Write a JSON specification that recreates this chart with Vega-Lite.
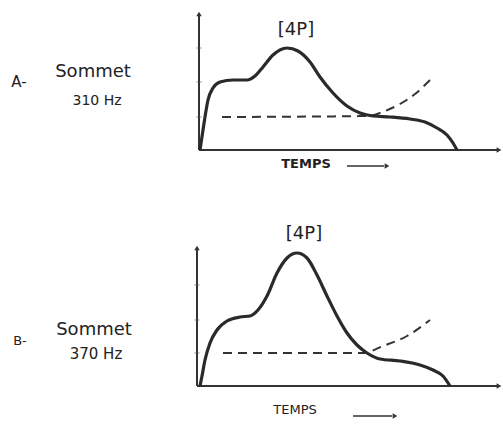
{
 "$schema": "https://vega.github.io/schema/vega-lite/v6.json",
 "padding": 0,
 "spacing": 0,
 "background": "white",
 "config": {"view": {"stroke": null}},
 "datasets": {
  "curves": [
   {"p":"A","s":"main","t":1,"a":0},{"p":"A","s":"main","t":4,"a":20},{"p":"A","s":"main","t":6,"a":33},{"p":"A","s":"main","t":9,"a":50},{"p":"A","s":"main","t":14,"a":62},{"p":"A","s":"main","t":21,"a":68},{"p":"A","s":"main","t":34,"a":70},{"p":"A","s":"main","t":48,"a":70},{"p":"A","s":"main","t":56,"a":74},{"p":"A","s":"main","t":64,"a":83},{"p":"A","s":"main","t":74,"a":95},{"p":"A","s":"main","t":88,"a":102},{"p":"A","s":"main","t":99,"a":99},{"p":"A","s":"main","t":111,"a":88},{"p":"A","s":"main","t":121,"a":73},{"p":"A","s":"main","t":134,"a":57},{"p":"A","s":"main","t":148,"a":44},{"p":"A","s":"main","t":161,"a":37},{"p":"A","s":"main","t":174,"a":34},{"p":"A","s":"main","t":191,"a":33},{"p":"A","s":"main","t":211,"a":31},{"p":"A","s":"main","t":226,"a":28},{"p":"A","s":"main","t":238,"a":22},{"p":"A","s":"main","t":248,"a":15},{"p":"A","s":"main","t":254,"a":7},{"p":"A","s":"main","t":258,"a":0},
   {"p":"A","s":"dash","t":23,"a":33},{"p":"A","s":"dash","t":168,"a":34},{"p":"A","s":"dash","t":186,"a":39},{"p":"A","s":"dash","t":201,"a":46},{"p":"A","s":"dash","t":216,"a":56},{"p":"A","s":"dash","t":231,"a":70},
   {"p":"B","s":"main","t":3,"a":0},{"p":"B","s":"main","t":5,"a":10},{"p":"B","s":"main","t":8,"a":26},{"p":"B","s":"main","t":13,"a":43},{"p":"B","s":"main","t":20,"a":56},{"p":"B","s":"main","t":30,"a":65},{"p":"B","s":"main","t":43,"a":69},{"p":"B","s":"main","t":53,"a":70},{"p":"B","s":"main","t":61,"a":76},{"p":"B","s":"main","t":70,"a":90},{"p":"B","s":"main","t":80,"a":113},{"p":"B","s":"main","t":90,"a":128},{"p":"B","s":"main","t":100,"a":133},{"p":"B","s":"main","t":110,"a":128},{"p":"B","s":"main","t":120,"a":111},{"p":"B","s":"main","t":130,"a":90},{"p":"B","s":"main","t":140,"a":70},{"p":"B","s":"main","t":150,"a":53},{"p":"B","s":"main","t":160,"a":41},{"p":"B","s":"main","t":170,"a":33},{"p":"B","s":"main","t":183,"a":27},{"p":"B","s":"main","t":203,"a":25},{"p":"B","s":"main","t":223,"a":21},{"p":"B","s":"main","t":236,"a":16},{"p":"B","s":"main","t":246,"a":10},{"p":"B","s":"main","t":253,"a":0},
   {"p":"B","s":"dash","t":26,"a":33},{"p":"B","s":"dash","t":166,"a":33},{"p":"B","s":"dash","t":186,"a":40},{"p":"B","s":"dash","t":210,"a":50},{"p":"B","s":"dash","t":233,"a":66}
  ],
  "rules": [
   {"p":"A","k":"axis","t":0,"a":0,"t2":0,"a2":136},{"p":"A","k":"axis","t":0,"a":0,"t2":298,"a2":0},{"p":"A","k":"arrow","t":148,"a":-16,"t2":185,"a2":-16},
   {"p":"B","k":"axis","t":0,"a":0,"t2":0,"a2":138},{"p":"B","k":"axis","t":0,"a":0,"t2":300,"a2":0},{"p":"B","k":"arrow","t":156,"a":-30,"t2":195,"a2":-30}
  ],
  "heads": [
   {"p":"A","k":"up","t":0,"a":136},{"p":"A","k":"right","t":300,"a":0},{"p":"A","k":"right","t":188,"a":-16},
   {"p":"B","k":"up","t":0,"a":138},{"p":"B","k":"right","t":302,"a":0},{"p":"B","k":"right","t":198,"a":-30}
  ],
  "ticks": [
   {"p":"A","t":0,"a":102},{"p":"A","t":0,"a":68},{"p":"A","t":0,"a":33},
   {"p":"B","t":0,"a":101},{"p":"B","t":0,"a":66},{"p":"B","t":0,"a":33}
  ],
  "labels": [
   {"p":"A","r":"letter","t":-180,"a":68,"txt":"A-"},{"p":"A","r":"title","t":-106,"a":78,"txt":"Sommet"},{"p":"A","r":"freq","t":-102,"a":49,"txt":"310 Hz"},{"p":"A","r":"bracket","t":97,"a":120,"txt":"[4P]"},{"p":"A","r":"temps","t":107,"a":-14,"txt":"TEMPS"},
   {"p":"B","r":"letter","t":-177,"a":45,"txt":"B-"},{"p":"B","r":"title","t":-103,"a":56,"txt":"Sommet"},{"p":"B","r":"freq","t":-101,"a":32,"txt":"370 Hz"},{"p":"B","r":"bracket","t":107,"a":152,"txt":"[4P]"},{"p":"B","r":"temps","t":98,"a":-24,"txt":"TEMPS"}
  ]
 },
 "vconcat": [
  {
   "width": 503, "height": 213,
   "encoding": {
    "x": {"field":"t","type":"quantitative","scale":{"domain":[-199,304],"nice":false,"zero":false},"axis":null},
    "y": {"field":"a","type":"quantitative","scale":{"domain":[-63,150],"nice":false,"zero":false},"axis":null}
   },
   "layer": [
    {"data":{"name":"rules"},"transform":[{"filter":"datum.p=='A' && datum.k=='axis'"}],"mark":{"type":"rule","color":"#333","strokeWidth":2},"encoding":{"x2":{"field":"t2"},"y2":{"field":"a2"}}},
    {"data":{"name":"rules"},"transform":[{"filter":"datum.p=='A' && datum.k=='arrow'"}],"mark":{"type":"rule","color":"#333","strokeWidth":1.5},"encoding":{"x2":{"field":"t2"},"y2":{"field":"a2"}}},
    {"data":{"name":"heads"},"transform":[{"filter":"datum.p=='A' && datum.k=='up'"}],"mark":{"type":"point","shape":"triangle-up","filled":true,"color":"#333","size":30,"opacity":1}},
    {"data":{"name":"heads"},"transform":[{"filter":"datum.p=='A' && datum.k=='right'"}],"mark":{"type":"point","shape":"triangle-right","filled":true,"color":"#333","size":30,"opacity":1}},
    {"data":{"name":"ticks"},"transform":[{"filter":"datum.p=='A'"}],"mark":{"type":"tick","orient":"horizontal","color":"#555","size":5,"thickness":1}},
    {"data":{"name":"curves"},"transform":[{"filter":"datum.p=='A' && datum.s=='dash'"}],"mark":{"type":"line","color":"#333","strokeWidth":2,"strokeDash":[9,6],"interpolate":"monotone"}},
    {"data":{"name":"curves"},"transform":[{"filter":"datum.p=='A' && datum.s=='main'"}],"mark":{"type":"line","color":"#2a2a2a","strokeWidth":3.2,"interpolate":"monotone"}},
    {"data":{"name":"labels"},"transform":[{"filter":"datum.p=='A' && datum.r=='letter'"}],"mark":{"type":"text","font":"DejaVu Sans","fontSize":15,"color":"#222"},"encoding":{"text":{"field":"txt"}}},
    {"data":{"name":"labels"},"transform":[{"filter":"datum.p=='A' && datum.r=='title'"}],"mark":{"type":"text","font":"DejaVu Sans","fontSize":18,"color":"#222"},"encoding":{"text":{"field":"txt"}}},
    {"data":{"name":"labels"},"transform":[{"filter":"datum.p=='A' && datum.r=='freq'"}],"mark":{"type":"text","font":"DejaVu Sans","fontSize":14,"color":"#222"},"encoding":{"text":{"field":"txt"}}},
    {"data":{"name":"labels"},"transform":[{"filter":"datum.p=='A' && datum.r=='bracket'"}],"mark":{"type":"text","font":"DejaVu Sans","fontSize":18,"color":"#222"},"encoding":{"text":{"field":"txt"}}},
    {"data":{"name":"labels"},"transform":[{"filter":"datum.p=='A' && datum.r=='temps'"}],"mark":{"type":"text","font":"DejaVu Sans","fontSize":13,"fontWeight":"bold","color":"#222"},"encoding":{"text":{"field":"txt"}}}
   ]
  },
  {
   "width": 503, "height": 214,
   "encoding": {
    "x": {"field":"t","type":"quantitative","scale":{"domain":[-197,306],"nice":false,"zero":false},"axis":null},
    "y": {"field":"a","type":"quantitative","scale":{"domain":[-41,173],"nice":false,"zero":false},"axis":null}
   },
   "layer": [
    {"data":{"name":"rules"},"transform":[{"filter":"datum.p=='B' && datum.k=='axis'"}],"mark":{"type":"rule","color":"#333","strokeWidth":2},"encoding":{"x2":{"field":"t2"},"y2":{"field":"a2"}}},
    {"data":{"name":"rules"},"transform":[{"filter":"datum.p=='B' && datum.k=='arrow'"}],"mark":{"type":"rule","color":"#333","strokeWidth":1.5},"encoding":{"x2":{"field":"t2"},"y2":{"field":"a2"}}},
    {"data":{"name":"heads"},"transform":[{"filter":"datum.p=='B' && datum.k=='up'"}],"mark":{"type":"point","shape":"triangle-up","filled":true,"color":"#333","size":30,"opacity":1}},
    {"data":{"name":"heads"},"transform":[{"filter":"datum.p=='B' && datum.k=='right'"}],"mark":{"type":"point","shape":"triangle-right","filled":true,"color":"#333","size":30,"opacity":1}},
    {"data":{"name":"ticks"},"transform":[{"filter":"datum.p=='B'"}],"mark":{"type":"tick","orient":"horizontal","color":"#555","size":5,"thickness":1}},
    {"data":{"name":"curves"},"transform":[{"filter":"datum.p=='B' && datum.s=='dash'"}],"mark":{"type":"line","color":"#333","strokeWidth":2,"strokeDash":[9,6],"interpolate":"monotone"}},
    {"data":{"name":"curves"},"transform":[{"filter":"datum.p=='B' && datum.s=='main'"}],"mark":{"type":"line","color":"#2a2a2a","strokeWidth":3.2,"interpolate":"monotone"}},
    {"data":{"name":"labels"},"transform":[{"filter":"datum.p=='B' && datum.r=='letter'"}],"mark":{"type":"text","font":"DejaVu Sans","fontSize":13,"color":"#222"},"encoding":{"text":{"field":"txt"}}},
    {"data":{"name":"labels"},"transform":[{"filter":"datum.p=='B' && datum.r=='title'"}],"mark":{"type":"text","font":"DejaVu Sans","fontSize":18,"color":"#222"},"encoding":{"text":{"field":"txt"}}},
    {"data":{"name":"labels"},"transform":[{"filter":"datum.p=='B' && datum.r=='freq'"}],"mark":{"type":"text","font":"DejaVu Sans","fontSize":15,"color":"#222"},"encoding":{"text":{"field":"txt"}}},
    {"data":{"name":"labels"},"transform":[{"filter":"datum.p=='B' && datum.r=='bracket'"}],"mark":{"type":"text","font":"DejaVu Sans","fontSize":18,"color":"#222"},"encoding":{"text":{"field":"txt"}}},
    {"data":{"name":"labels"},"transform":[{"filter":"datum.p=='B' && datum.r=='temps'"}],"mark":{"type":"text","font":"DejaVu Sans","fontSize":13,"color":"#222"},"encoding":{"text":{"field":"txt"}}}
   ]
  }
 ]
}
